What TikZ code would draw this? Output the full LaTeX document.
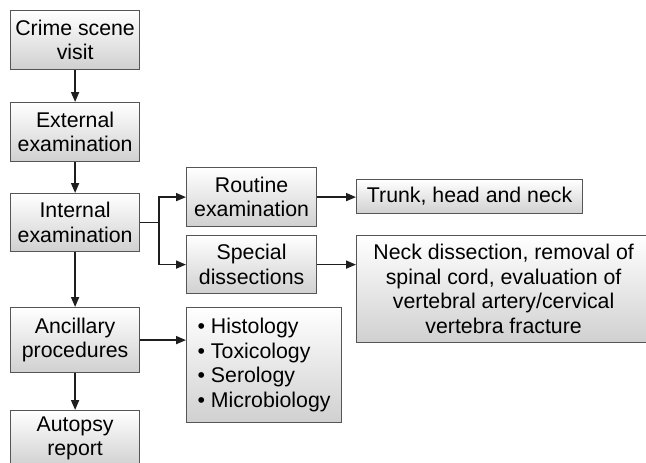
\documentclass[tikz,border=0pt]{standalone}
\usepackage{fontspec}
\setmainfont{Liberation Sans}
\usetikzlibrary{arrows.meta}
\definecolor{boxbot}{RGB}{208,208,208}
\definecolor{boxline}{RGB}{85,85,85}
\definecolor{arrowcol}{RGB}{30,30,30}
\begin{document}
\begin{tikzpicture}[x=1pt,y=-1pt,
  box/.style={draw=boxline, line width=1.2pt, top color=white, bottom color=boxbot,
    inner sep=0pt, anchor=north west, align=center, text=black,
    font=\fontsize{21.3}{24.5}\selectfont},
  conn/.style={line width=1.7pt, draw=arrowcol, -{Triangle[length=10pt,width=8pt]}}]
\useasboundingbox (0,0) rectangle (646,463);
\fill[white] (0,0) rectangle (646,463);
\clip (0,0) rectangle (646,463);
% left column
\node[box, minimum width=129pt, minimum height=59pt] (crime) at (10,10) {Crime scene\\visit};
\node[box, minimum width=129pt, minimum height=59pt] (external) at (10,102) {External\\examination};
\node[box, minimum width=129pt, minimum height=58pt] (internal) at (10,193) {Internal\\examination};
\node[box, minimum width=129pt, minimum height=65pt] (ancillary) at (10,307) {Ancillary\\procedures};
\node[box, minimum width=129pt, minimum height=56pt] (autopsy) at (10,410) {Autopsy\\report};
% middle column
\node[box, minimum width=130pt, minimum height=59pt] (routine) at (186,167) {Routine\\examination};
\node[box, minimum width=130pt, minimum height=58pt] (special) at (186,235) {Special\\dissections};
\node[box, minimum width=155pt, minimum height=115pt, align=left] (list) at (186,307)
  {• Histology\\• Toxicology\\• Serology\\• Microbiology};
% right column
\node[box, minimum width=226pt, minimum height=34pt] (trunk) at (356,179) {Trunk, head and neck};
\node[box, minimum width=294pt, minimum height=107pt] (neck) at (356,235)
  {Neck dissection, removal of\\spinal cord, evaluation of\\vertebral artery/cervical\\vertebra fracture};
% connectors
\draw[conn] (crime) -- (external);
\draw[conn] (external) -- (internal);
\draw[conn] (internal) -- (ancillary);
\draw[conn] (ancillary) -- (autopsy);
\draw[conn] (internal.east) -- ++(19,0) |- (routine.west);
\draw[conn] (internal.east) -- ++(19,0) |- (special.west);
\draw[conn] (routine.east) -- (routine.east -| trunk.west);
\draw[conn] (special.east) -- (special.east -| neck.west);
\draw[conn] (ancillary.east) -- (ancillary.east -| list.west);
\end{tikzpicture}
\end{document}
